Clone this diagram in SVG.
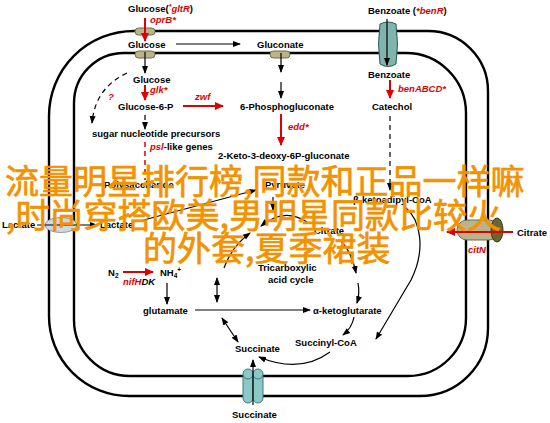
<svg xmlns="http://www.w3.org/2000/svg" width="550" height="423" viewBox="0 0 550 423">
<style>
.t{font-family:"Liberation Sans",Arial,sans-serif;font-weight:bold;font-size:9.5px;fill:#000}
.r{fill:#e00000;font-style:italic}
.i{font-style:italic}
.m{fill:none;stroke:#000;stroke-width:2.4}
.a{fill:none;stroke:#000;stroke-width:1.2}
.ra{fill:none;stroke:#e00000;stroke-width:2}
.d{stroke-dasharray:5,4}
.cap{fill:#b9b48a;stroke:#6f6b4a;stroke-width:1}
.ch{fill:#f39200;stroke:#f39200;stroke-width:0.7;font-family:"Noto Sans CJK SC",sans-serif;font-size:34px}
</style>
<defs>
<marker id="ab" markerUnits="userSpaceOnUse" markerWidth="8" markerHeight="7" refX="7" refY="3.5" orient="auto"><path d="M0,0.5 L8,3.5 L0,6.5 Z" fill="#000"/></marker>
<marker id="abs" markerUnits="userSpaceOnUse" markerWidth="8" markerHeight="7" refX="1" refY="3.5" orient="auto"><path d="M8,0.5 L0,3.5 L8,6.5 Z" fill="#000"/></marker>
<marker id="ar" markerUnits="userSpaceOnUse" markerWidth="9" markerHeight="8" refX="8" refY="4" orient="auto"><path d="M0,0 L9,4 L0,8 Z" fill="#e00000"/></marker>
</defs>
<rect width="550" height="423" fill="#fff"/>
<g id="membranes">
<path class="m" d="M134,31 H428 A60,60 0 0 1 488,91 V328 A68,68 0 0 1 420,396 H129 A80,80 0 0 1 49,316 V116 A85,85 0 0 1 134,31 Z"/>
<path class="m" d="M124,53 H406 A60,60 0 0 1 466,113 V318 A58,58 0 0 1 408,376 H130 A56,56 0 0 1 74,320 V103 A50,50 0 0 1 124,53 Z"/>
</g>
<g id="transporters">
<rect class="cap" x="135" y="28" width="20" height="7" rx="3.5"/>
<rect class="cap" x="135" y="51" width="20" height="7" rx="3.5"/>
<rect class="cap" x="270" y="51" width="20" height="7" rx="3.5"/>
<path d="M380,24 Q388,20 396,24 Q399,44 396,64 Q388,69 380,64 Q377,44 380,24 Z" fill="#7fb5ac" stroke="#2f5a52" stroke-width="1"/>
<ellipse cx="61" cy="225" rx="16" ry="7.5" fill="#cdd9e6" stroke="#8a9aaa" stroke-width="1"/>
<rect class="cap" x="457" y="220" width="42" height="20" rx="10"/>
<ellipse cx="497" cy="230" rx="6" ry="12" fill="#6b6530" stroke="#3d3a1a" stroke-width="1"/>
<g fill="#8cc9c6" stroke="#3f7a78" stroke-width="1">
<rect x="243" y="372" width="10" height="31" rx="5"/>
<rect x="253" y="372" width="10" height="31" rx="5"/>
<circle cx="248" cy="374" r="5"/>
<circle cx="258" cy="374" r="5"/>
</g>
</g>
<g id="connectors">
<path class="ra" d="M145,18 V41" marker-end="url(#ar)"/>
<path class="a" d="M176,44 H240" marker-end="url(#ab)"/>
<path class="a" d="M145,52 V73" marker-end="url(#ab)"/>
<path class="ra" d="M145,85 V100" marker-end="url(#ar)"/>
<path class="ra" d="M183,106 H223" marker-end="url(#ar)"/>
<path class="a d" d="M145,115 V129" marker-end="url(#ab)"/>
<path class="a d" d="M127,73 Q95,88 92,123" marker-end="url(#ab)"/>
<path d="M145,142 V180" fill="none" stroke="#e00000" stroke-width="1.5" stroke-dasharray="5,4"/>
<path class="a" d="M281,53 V72" marker-end="url(#ab)"/>
<path class="a" d="M281,82 V98" marker-end="url(#ab)"/>
<path class="ra" d="M281,114 V145" marker-end="url(#ar)"/>
<path class="a" d="M387,19 V65" marker-end="url(#ab)"/>
<path class="ra" d="M390,80 V98" marker-end="url(#ar)"/>
<path class="a d" d="M390,116 V190" marker-end="url(#ab)"/>
<path class="a" d="M37,225 H97" marker-end="url(#ab)"/>
<path class="a" d="M140,221 L256,190" marker-end="url(#ab)"/>
<path class="a" d="M273,197 V210" marker-end="url(#ab)"/>
<path class="a" d="M307,222 Q284,207 261,226" marker-end="url(#ab)"/>
<path class="a" d="M224,268 Q232,246 250,233" marker-end="url(#ab)"/>
<path class="a" d="M340,240 Q352,252 356,273" marker-end="url(#ab)"/>
<path class="a" d="M358,283 Q360,293 357,303" marker-end="url(#ab)"/>
<path class="a" d="M354,317 Q352,328 343,335" marker-end="url(#ab)"/>
<path class="a" d="M330,352 Q300,374 259,357" marker-end="url(#ab)"/>
<path class="a" d="M217,278 V302" marker-start="url(#abs)" marker-end="url(#ab)"/>
<path class="a" d="M222,318 L238,342" marker-start="url(#abs)" marker-end="url(#ab)"/>
<path class="a" d="M195,310 H310" marker-end="url(#ab)"/>
<path class="a" d="M167,283 V304" marker-end="url(#ab)"/>
<path class="ra" d="M123,272 H153" marker-end="url(#ar)"/>
<path class="a" d="M405,207 C421,220 426,250 411,280 L376,339" marker-end="url(#ab)"/>
<path class="ra" d="M513,232 H447" marker-end="url(#ar)"/>
<path class="a" d="M253,405 V360" marker-end="url(#ab)"/>
</g>
<g id="labels">
<text class="t" x="128" y="12">Glucose(<tspan class="r" font-size="7" dy="-3">*</tspan><tspan class="r" dy="3">gltR</tspan>)</text>
<text class="t r" x="150" y="23">oprB*</text>
<text class="t" x="128" y="47.5">Glucose</text>
<text class="t" x="257" y="47.5">Gluconate</text>
<text class="t" x="133" y="82.5">Glucose</text>
<text class="t r" x="150" y="93">glk*</text>
<text class="t" x="118" y="109.5">Glucose-6-P</text>
<text class="t r" x="195" y="100">zwf</text>
<text class="t" x="240" y="109.5">6-Phosphogluconate</text>
<text class="t r" x="108" y="100">?</text>
<text class="t" x="92" y="137">sugar nucleotide precursors</text>
<text class="t" x="150" y="150"><tspan class="r">psl</tspan>-like genes</text>
<text class="t r" x="288" y="130">edd*</text>
<text class="t" x="218" y="158.5">2-Keto-3-deoxy-6P-gluconate</text>
<text class="t" x="368" y="13.5">Benzoate (<tspan class="r" font-style="normal">*</tspan><tspan class="r">benR</tspan>)</text>
<text class="t" x="368" y="78">Benzoate</text>
<text class="t r" x="398" y="92">benABCD*</text>
<text class="t" x="372" y="110">Catechol</text>
<text class="t" x="104" y="188">Polysaccharide</text>
<text class="t" x="265" y="188">Pyruvate</text>
<text class="t" x="353" y="203">β-ketoadipyl-CoA</text>
<text class="t" x="2" y="228">Lactate</text>
<text class="t" x="100" y="228">Lactate</text>
<text class="t" x="314" y="234">Citrate</text>
<text class="t" x="517" y="236">Citrate</text>
<text class="t r" x="468" y="253">citN</text>
<text class="t" x="258" y="271">Tricarboxylic</text>
<text class="t" x="268" y="283">acid cycle</text>
<text class="t" x="108" y="276">N<tspan font-size="6.5" dy="2">2</tspan></text>
<text class="t i" x="123" y="285"><tspan fill="#e00000">nifH</tspan>DK</text>
<text class="t" x="160" y="276">NH<tspan font-size="6.5" dy="2">4</tspan><tspan font-size="6.5" dy="-6">+</tspan></text>
<text class="t" x="143" y="314">glutamate</text>
<text class="t" x="313" y="314">α-ketoglutarate</text>
<text class="t" x="295" y="346">Succinyl-CoA</text>
<text class="t" x="235" y="352">Succinate</text>
<text class="t" x="232" y="418">Succinate</text>
</g>
<g id="overlay">
<text class="ch" x="5" y="194">流量明星排行榜,同款和正品一样嘛</text>
<text class="ch" x="6" y="228">,时尚穿搭欧美,男明星同款比较火</text>
<text class="ch" x="143" y="261">的外套,夏季裙装</text>
</g>
</svg>
